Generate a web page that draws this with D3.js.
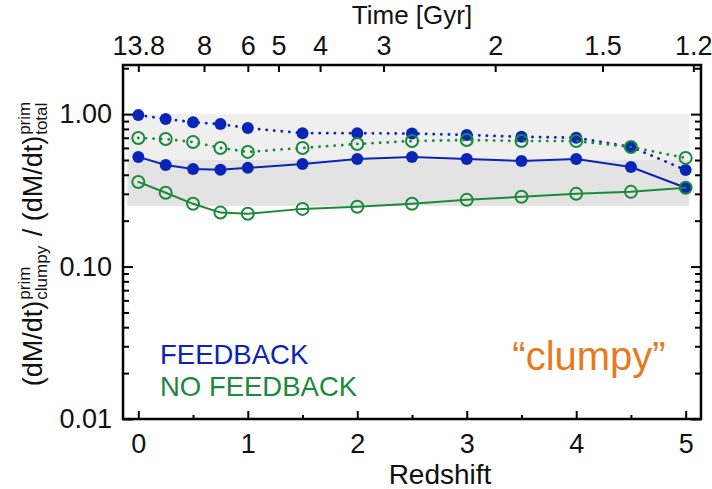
<!DOCTYPE html>
<html>
<head>
<meta charset="utf-8">
<script src="https://cdn.jsdelivr.net/npm/d3@7"></script>
<style>
body { margin:0; background:#fff; }
text { font-family:"Liberation Sans", Arial, sans-serif; }
</style>
</head>
<body>
<script>
// data
var redshift=[0,0.25,0.5,0.75,1,1.5,2,2.5,3,3.5,4,4.5,5];
var fbTotal=[0.985,0.93,0.886,0.86,0.81,0.75,0.75,0.745,0.73,0.71,0.70,0.61,0.43];    // blue dotted
var nofbTotal=[0.697,0.687,0.656,0.60,0.565,0.60,0.637,0.666,0.676,0.666,0.666,0.609,0.516]; // green dotted
var fbClumpy=[0.524,0.464,0.437,0.431,0.444,0.471,0.508,0.524,0.508,0.493,0.508,0.45,0.329]; // blue solid
var nofbClumpy=[0.359,0.305,0.258,0.226,0.222,0.239,0.247,0.258,0.274,0.287,0.30,0.309,0.329]; // green solid
var timeLabels=["13.8","8","6","5","4","3","2","1.5","1.2"];
var timeRedshift=[0,0.60,1.0,1.28,1.66,2.24,3.26,4.24,5.07];
var xTicks=[0,1,2,3,4,5];
var xMinor=[0.5,1.5,2.5,3.5,4.5];
var yTicks=[0.01,0.1,1];
var bands=[[0.5,1,"#efefef"],[0.25,0.5,"#e3e3e3"]];

var blue="#0a24b8", green="#1b8a3a", orange="#e8791e";
var W=712, H=489;
var svg=d3.select('body').append('svg').attr("width",W).attr("height",H);

var x=d3.scaleLinear().domain([-0.14,5.14]).range([123,701]);
var y=d3.scaleLog().domain([0.01,2.1]).range([419,65]);
var yMinor=[];
[0.01,0.1,1].forEach(function(d){ for(var k=2;k<=9;k++){ if(d*k<=2.1) yMinor.push(d*k); } });

// shaded band//{{{
bands.forEach(function(b){
	svg.append("rect")
		.attr("x",x(-0.1)).attr("width",x(5.03)-x(-0.1))
		.attr("y",y(b[1])).attr("height",y(b[0])-y(b[1]))
		.attr("fill",b[2]);
});
//}}}
// axes//{{{
function clean(g){ g.select(".domain").remove(); g.selectAll("line").attr("stroke","#000").attr("stroke-width",2); g.selectAll("text").attr("font-size",27).attr("fill","#111").attr("font-family",'"Liberation Sans", Arial, sans-serif'); }

svg.append("g").attr("transform","translate(123,0)").call(d3.axisRight(y).tickValues(yTicks).tickSize(10).tickFormat("")).call(clean);
svg.append("g").attr("transform","translate(123,0)").call(d3.axisRight(y).tickValues(yMinor).tickSize(6).tickFormat("")).call(clean);
svg.append("g").attr("transform","translate(701,0)").call(d3.axisLeft(y).tickValues(yTicks).tickSize(10).tickFormat("")).call(clean);
svg.append("g").attr("transform","translate(701,0)").call(d3.axisLeft(y).tickValues(yMinor).tickSize(6).tickFormat("")).call(clean);
svg.append("g").attr("transform","translate(123,0)").call(d3.axisLeft(y).tickValues(yTicks).tickSize(0).tickPadding(11).tickFormat(d3.format(".2f"))).call(clean);

svg.append("g").attr("transform","translate(0,419)").call(d3.axisTop(x).tickValues(xTicks).tickSize(8).tickFormat("")).call(clean);
svg.append("g").attr("transform","translate(0,419)").call(d3.axisTop(x).tickValues(xMinor).tickSize(4).tickFormat("")).call(clean);
svg.append("g").attr("transform","translate(0,419)").call(d3.axisBottom(x).tickValues(xTicks).tickSize(0).tickPadding(15).tickFormat(d3.format("d"))).call(clean);

svg.append("g").attr("transform","translate(0,65)").call(d3.axisBottom(x).tickValues(timeRedshift).tickSize(7).tickFormat("")).call(clean);
svg.append("g").attr("transform","translate(0,65)").call(d3.axisTop(x).tickValues(timeRedshift).tickSize(0).tickPadding(10).tickFormat(function(d,i){ return timeLabels[i]; })).call(clean);
//}}}
// series//{{{
function series(vals, color, dashed, filled){
	var line=d3.line().x(function(d,i){ return x(redshift[i]); }).y(function(d){ return y(d); });
	svg.append("path").datum(vals).attr("d",line).attr("fill","none")
		.attr("stroke",color).attr("stroke-width",dashed?2.8:2)
		.attr("stroke-dasharray",dashed?"0.1,7.5":null).attr("stroke-linecap","round");
	svg.append("g").selectAll("circle").data(vals).enter().append("circle")
		.attr("cx",function(d,i){ return x(redshift[i]); })
		.attr("cy",function(d){ return y(d); })
		.attr("r",6)
		.attr("fill",filled?color:"none")
		.attr("stroke",color).attr("stroke-width",filled?0:2);
}
series(fbTotal,blue,true,true);
series(fbClumpy,blue,false,true);
series(nofbTotal,green,true,false);
series(nofbClumpy,green,false,false);
//}}}
// frame
svg.append("rect").attr("x",123).attr("y",65).attr("width",578).attr("height",354)
	.attr("fill","none").attr("stroke","#000").attr("stroke-width",2.5);

// titles//{{{
svg.append("text").attr("x",412).attr("y",24).attr("text-anchor","middle").attr("font-size",26).attr("fill","#111").text("Time [Gyr]");
svg.append("text").attr("x",440).attr("y",484).attr("text-anchor","middle").attr("font-size",28).attr("fill","#111").text("Redshift");

var yl=svg.append("g").attr("transform","translate(42,243) rotate(-90)");
var pieces=[["(dM/dt)",null],[null,["prim","clumpy"]],[" / (dM/dt)",null],[null,["prim","total"]]];
var cx=0;
pieces.forEach(function(p){
	if(p[0]){
		var t=yl.append("text").attr("x",cx).attr("y",0).attr("font-size",27).attr("fill","#111").attr("xml:space","preserve").text(p[0]);
		cx+=t.node().getComputedTextLength()+1;
	} else {
		var a=yl.append("text").attr("x",cx).attr("y",-12).attr("font-size",17).attr("fill","#111").text(p[1][0]);
		var b=yl.append("text").attr("x",cx).attr("y",5).attr("font-size",17).attr("fill","#111").text(p[1][1]);
		cx+=Math.max(a.node().getComputedTextLength(),b.node().getComputedTextLength())+2;
	}
});
yl.selectAll("text").attr("transform","translate("+(-cx/2)+",0)");
//}}}
// legend//{{{
svg.append("text").attr("x",160).attr("y",364).attr("font-size",27.5).attr("fill",blue).text("FEEDBACK");
svg.append("text").attr("x",160).attr("y",396).attr("font-size",27.5).attr("fill",green).text("NO FEEDBACK");
svg.append("text").attr("x",589).attr("y",370).attr("text-anchor","middle").attr("font-size",40).attr("fill",orange).text("\u201Cclumpy\u201D");
//}}}
</script>
</body>
</html>
